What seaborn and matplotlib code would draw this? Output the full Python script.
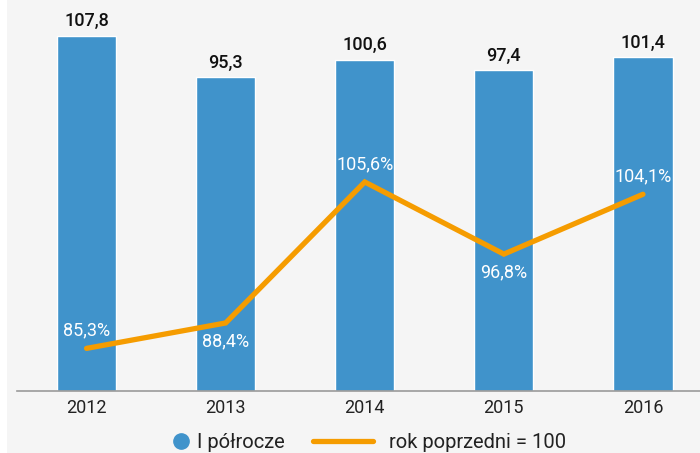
import numpy as np
import pandas as pd
import matplotlib
matplotlib.use("Agg")
import matplotlib.pyplot as plt
import seaborn as sns
from matplotlib.lines import Line2D
from matplotlib.patches import Rectangle

# data
years = ["2012", "2013", "2014", "2015", "2016"]
half_year = [107.8, 95.3, 100.6, 97.4, 101.4]
prev_year = [85.3, 88.4, 105.6, 96.8, 104.1]
half_labels = ["107,8", "95,3", "100,6", "97,4", "101,4"]
prev_labels = ["85,3%", "88,4%", "105,6%", "96,8%", "104,1%"]
label_side = [1, -1, 1, -1, 1]  # above / below the line point

blue = "#4093cb"
orange = "#f59c00"
bg = "#f5f5f5"

sns.set_style("white")
plt.rcParams["font.family"] = ["Roboto", "DejaVu Sans"]

df = pd.DataFrame({"year": years, "val": half_year})

fig = plt.figure(figsize=(7, 4.53), dpi=100, facecolor="white")
fig.patches.append(Rectangle((7 / 700, 0), 1, 1, transform=fig.transFigure,
                             facecolor=bg, edgecolor="none", zorder=-10))
ax = fig.add_axes([17 / 700, 62 / 453, 683 / 700, 391 / 453])
ax.set_facecolor(bg)

sns.barplot(data=df, x="year", y="val", color=blue, width=0.425,
            saturation=1, ax=ax)
ax.set_xlim(-0.5, 4.41)
ax.set_ylim(0, 118.7)
for i, v in enumerate(half_year):
    ax.annotate(half_labels[i], (i, v), xytext=(0, 4), textcoords="offset points",
                ha="center", va="bottom", fontsize=13, fontweight="medium",
                color="#111111")

ax2 = ax.twinx()
x = np.arange(len(years))
sns.lineplot(x=x, y=prev_year, color=orange, lw=3.8, ax=ax2,
             solid_capstyle="round", solid_joinstyle="miter")
ax2.set_ylim(80.1, 127.8)
for i, v in enumerate(prev_year):
    ax2.annotate(prev_labels[i], (i, v), xytext=(0, 13 * label_side[i]),
                 textcoords="offset points", ha="center", va="center",
                 fontsize=13, color="white")

for a in (ax, ax2):
    a.set_yticks([])
    a.set_ylabel("")
    a.set_xlabel("")
    for s in ["top", "right", "left"]:
        a.spines[s].set_visible(False)
ax2.spines["bottom"].set_visible(False)
ax.spines["bottom"].set_color("#9a9a9a")
ax.spines["bottom"].set_linewidth(1.2)
ax.tick_params(axis="x", length=0, pad=6, labelsize=13, labelcolor="#222222")

# two legends so the dot sits right next to its text
dot = Line2D([], [], marker="o", ls="none", color=blue, markersize=11)
line = Line2D([], [], color=orange, lw=3.8, solid_capstyle="round")
fig.legend([dot], ["I półrocze"], loc="center left",
           bbox_to_anchor=(172 / 700, 10 / 453), frameon=False, fontsize=14.5,
           handlelength=0.9, handletextpad=0.35, borderpad=0, borderaxespad=0,
           labelcolor="#222222")
fig.legend([line], ["rok poprzedni = 100"], loc="center left",
           bbox_to_anchor=(313 / 700, 10 / 453), frameon=False, fontsize=14.5,
           handlelength=3.0, handletextpad=0.75, borderpad=0, borderaxespad=0,
           labelcolor="#222222")

fig.savefig("out.png", dpi=100, facecolor="white")
